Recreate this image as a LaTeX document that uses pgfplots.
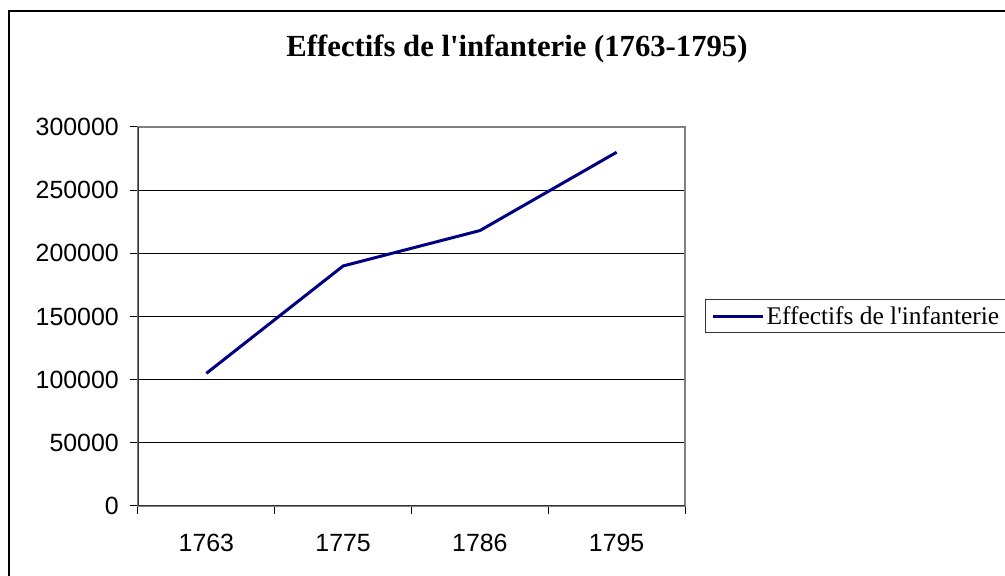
\documentclass[border=0pt]{standalone}
\usepackage{fontspec}
\newfontfamily\timesfont{Liberation Serif}
\newfontfamily\arialfont{Liberation Sans}
\setmainfont{Liberation Serif}
\usepackage{pgfplots}
\pgfplotsset{compat=1.18}
\definecolor{navyline}{RGB}{0,0,128}
\begin{document}
\begin{tikzpicture}[x=1bp,y=1bp]
\begin{axis}[
  at={(0,0)}, anchor=south west,
  scale only axis, width=547bp, height=379bp,
  xmin=-0.5, xmax=3.5, ymin=0, ymax=300000,
  xtick={0,1,2,3}, xticklabels={1763,1775,1786,1795},
  minor xtick={-0.5,0.5,1.5,2.5,3.5},
  ytick={0,50000,100000,150000,200000,250000,300000},
  xtick pos=left, ytick pos=left,
  ymajorgrids, major grid style={black, line width=1bp},
  tick align=outside,
  major tick length=8bp, minor tick length=8bp,
  major x tick style={draw=none},
  minor x tick style={black, line width=1bp},
  ytick style={black, line width=1bp},
  axis line style={black!50, line width=2bp},
  scaled y ticks=false,
  /pgf/number format/fixed, /pgf/number format/1000 sep={},
  /pgf/number format/assume math mode=true,
  tick label style={font=\arialfont\fontsize{25}{30}\selectfont},
  yticklabel style={inner sep=0pt, xshift=-11bp},
  xticklabel style={inner sep=0pt, yshift=-20bp},
  legend style={at={(1.0366,0.501)}, anchor=west, draw=black!80, line width=1bp,
    font=\timesfont\fontsize{25.5}{30}\selectfont, inner xsep=6bp, inner ysep=5bp},
  legend cell align=left,
  legend image code/.code={\draw[#1] (0bp,0bp) -- (50bp,0bp);},
]
\addplot[color=navyline, line width=3bp] coordinates {(0,105000) (1,190000) (2,218000) (3,280000)};
\addlegendentry{Effectifs de l'infanterie}
\draw[black!80, line width=2bp] (rel axis cs:0,1) -- (rel axis cs:0,0) -- (rel axis cs:1,0);
\end{axis}
\node[font=\timesfont\bfseries\fontsize{30.8}{36}\selectfont, anchor=base] at (379,449.3) {Effectifs de l'infanterie (1763-1795)};
\draw[black, line width=1.5bp] (-129,-80) -- (-129,495) -- (880,495);
\pgfresetboundingbox
\useasboundingbox (-138,-70) rectangle (867,506);
\end{tikzpicture}
\end{document}
